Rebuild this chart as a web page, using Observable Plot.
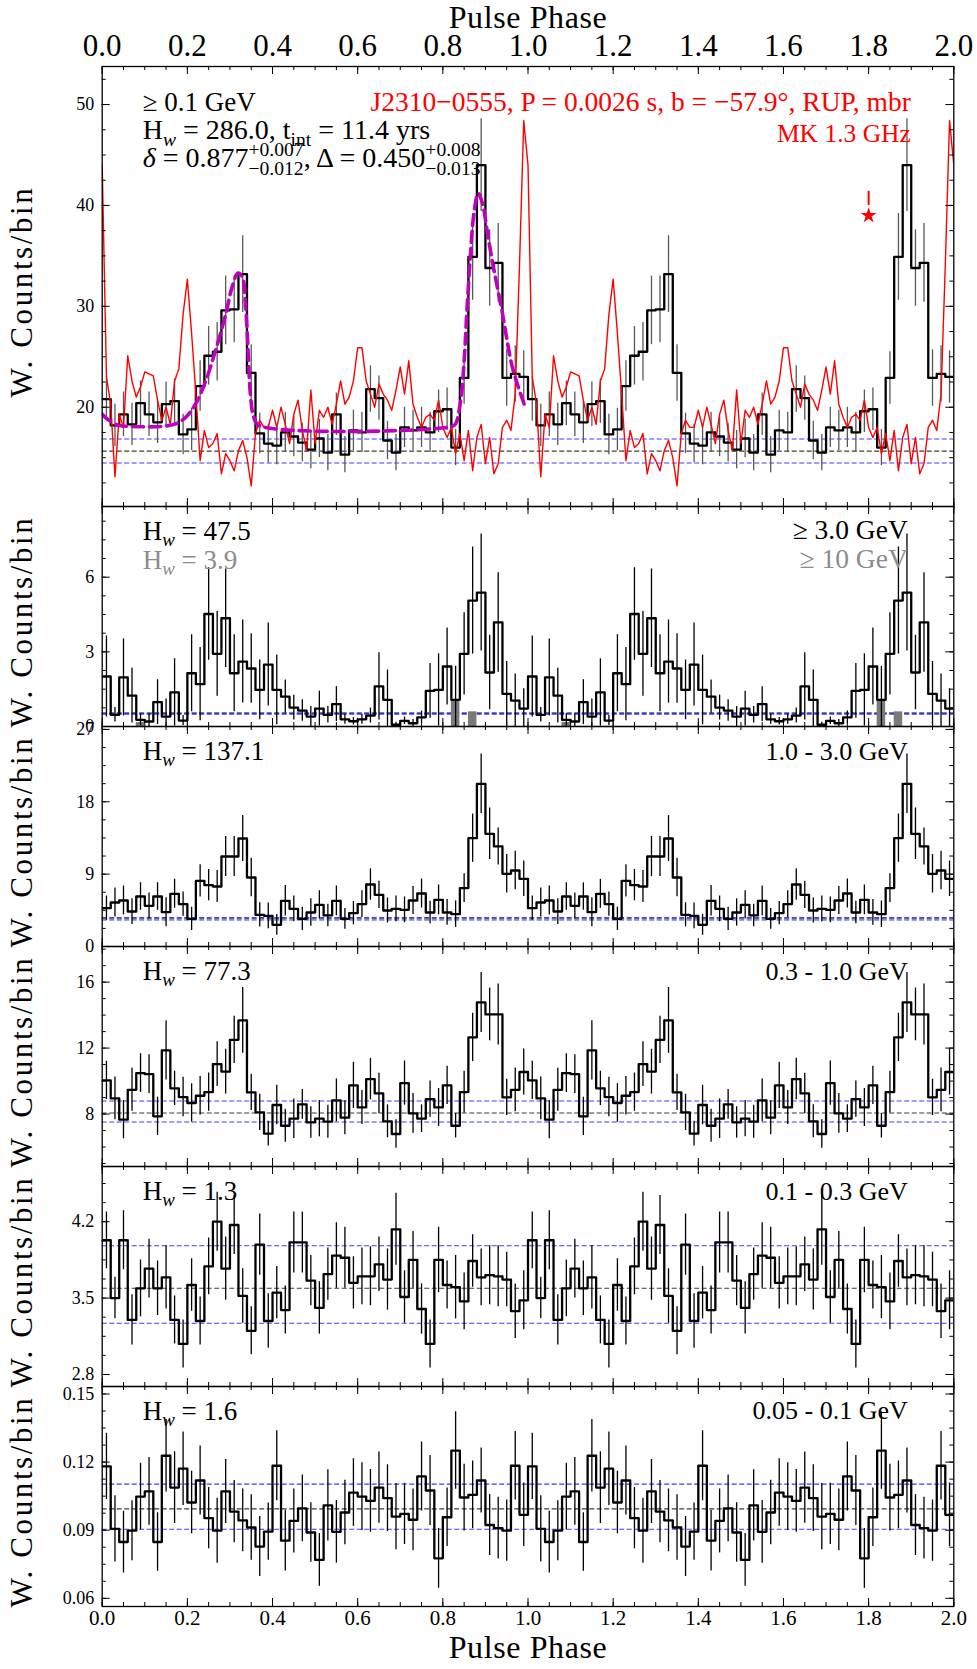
<!DOCTYPE html>
<html><head><meta charset="utf-8">
<script src="https://cdn.jsdelivr.net/npm/d3@7"></script>
<script src="https://cdn.jsdelivr.net/npm/@observablehq/plot@0.6"></script>
<style>
body{margin:0;background:#fff;}
#wrap{position:relative;width:977px;height:1669px;background:#fff;overflow:hidden;}
#wrap svg{position:absolute;left:0;overflow:visible;background:transparent;}
#wrap svg, #wrap svg text{font-family:"Liberation Serif","DejaVu Serif",serif !important;}
</style></head><body><div id="wrap"></div>
<script>
// ---------------- data ----------------
const binWidth = 0.02; // 50 bins per rotation
const phaseMajor = [0, 0.2, 0.4, 0.6, 0.8, 1.0, 1.2, 1.4, 1.6, 1.8, 2.0];
const phaseLabels = ["0.0","0.2","0.4","0.6","0.8","1.0","1.2","1.4","1.6","1.8","2.0"];

// >= 0.1 GeV
const p1Vals = [20.8,18.2,19.3,18.3,20.4,19.3,18.5,20.3,20.6,17.3, 17.8,22.1,25.1,25.5,29.6,29.7,33.2,23.4,17.4,16.4, 16.2,17.5,17.1,16.5,15.8,16.9,15.5,19.3,15.3,17.7, 17.5,21.8,20.9,16.7,15.5,18.0,17.7,18.0,17.5,19.6, 19.8,16.0,22.9,34.9,44.0,33.8,34.3,22.9,23.3,23.0];
const p1Errs = [2.2,2.1,2.2,2.1,2.2,2.2,2.1,2.2,2.2,2.0, 2.1,2.5,2.9,2.9,3.4,3.3,3.8,2.8,2.0,1.9, 1.9,2.0,2.0,1.9,1.9,1.9,1.8,2.1,1.8,2.0, 2.0,2.3,2.2,1.9,1.8,2.0,2.0,2.0,2.0,2.1, 2.1,1.8,2.6,4.3,4.6,3.8,3.9,2.8,2.8,2.6];
// >= 3 GeV
const p2Vals = [2.01,0.47,1.97,1.24,0.27,0.20,0.98,0.40,1.37,0.24, 2.14,1.70,4.52,2.92,4.35,2.14,2.61,2.33,1.47,2.49, 1.47,1.20,0.76,0.64,0.40,0.72,0.47,0.90,0.29,0.21, 0.29,0.44,1.61,1.07,0.07,0.23,0.13,0.37,1.43,1.47, 2.41,1.07,2.92,5.06,5.38,2.17,4.18,1.31,1.04,0.72];
const p2Errs = [1.63,0.29,1.55,1.10,0.25,0.30,0.90,0.70,1.35,0.20, 1.55,1.47,1.86,1.70,1.98,1.55,1.67,1.40,1.20,1.67, 1.40,0.67,0.50,0.43,0.40,0.70,0.33,0.70,0.20,0.15, 0.20,0.30,1.35,1.20,0.10,0.15,0.15,0.25,1.10,1.45, 1.55,1.35,1.65,2.15,2.35,1.50,2.00,1.30,1.07,0.80];
// >= 10 GeV (grey)
const p2HighVals = [0,0,0,0,0.16,0,0,0,0,0, 0,0,0,0,0,0,0,0,0,0, 0,0,0,0,0,0,0,0,0,0, 0,0,0,0,0,0,0,0,0,0, 0,1.07,0,0.59,0,0,0,0,0,0];
// 1.0 - 3.0 GeV
const p3Vals = [4.77,5.47,5.72,4.35,6.22,5.06,6.22,4.27,6.55,5.27, 3.44,8.17,7.63,7.46,11.19,11.19,13.43,8.58,3.94,3.81, 2.69,5.68,4.68,3.44,4.23,5.18,3.86,5.68,3.44,4.15, 5.27,7.71,6.43,4.48,4.68,4.56,5.72,6.59,4.23,5.80, 4.23,4.02,7.26,13.47,20.23,14.01,12.44,9.04,9.45,8.42];
const p3Errs = [1.5,1.8,1.8,1.6,1.7,1.6,1.7,1.8,1.8,1.5, 1.45,2.0,1.95,2.0,2.5,2.5,2.85,2.4,1.5,1.6, 1.3,1.9,1.6,1.45,1.7,1.75,1.4,1.85,1.3,1.45, 1.65,1.95,1.7,1.55,1.6,1.6,1.75,1.8,1.4,1.85, 1.6,1.65,1.8,3.0,3.7,3.2,2.3,2.4,2.4,2.2];
// 0.3 - 1.0 GeV
const p4Vals = [10.04,8.95,7.66,9.47,10.48,10.42,7.86,11.86,9.56,9.03, 8.67,9.11,9.33,11.03,10.57,12.5,13.68,9.31,8.10,6.81, 8.55,7.29,7.72,8.59,7.49,7.72,7.54,8.83,7.78,9.74, 8.40,10.12,9.25,7.56,6.79,9.88,8.04,7.72,8.91,8.40, 9.74,7.29,9.33,12.65,14.77,14.04,14.04,9.01,9.47,10.55];
const p4Errs = [1.16,1.3,1.16,1.3,1.17,1.17,1.16,1.8,1.04,1.2, 1.17,1.16,1.16,1.36,1.36,1.43,2.0,1.1,1.1,0.75, 1.2,1.0,1.2,0.9,0.95,1.1,1.0,1.3,1.03,1.4, 1.03,1.26,1.23,1.0,0.86,1.34,1.2,0.84,1.1,1.15, 1.16,0.74,1.26,1.47,1.82,1.6,1.85,1.1,1.33,1.4];
// 0.1 - 0.3 GeV
const p5Vals = [4.03,3.50,4.03,3.30,3.59,3.77,3.59,3.69,3.30,3.08, 3.62,3.29,3.79,4.20,3.77,4.17,3.52,3.20,3.99,3.29, 3.55,3.39,4.01,4.01,3.66,3.41,3.72,3.89,3.87,3.64, 3.70,3.70,3.81,3.67,4.13,3.51,3.85,3.40,3.08,3.85, 3.62,3.60,3.47,3.84,3.69,3.71,3.70,3.67,3.38,3.48];
const p5Errs = [0.26,0.19,0.27,0.23,0.26,0.27,0.25,0.29,0.22,0.22, 0.24,0.22,0.26,0.27,0.29,0.27,0.25,0.22,0.28,0.25, 0.24,0.22,0.28,0.28,0.23,0.24,0.24,0.30,0.28,0.24, 0.26,0.27,0.25,0.28,0.33,0.24,0.26,0.23,0.22,0.30, 0.22,0.29,0.26,0.24,0.26,0.27,0.28,0.25,0.25,0.27];
// 0.05 - 0.1 GeV
const p6Vals = [0.1181,0.0906,0.0848,0.0898,0.1048,0.1071,0.0848,0.1228,0.1088,0.1171, 0.1022,0.1119,0.0953,0.0898,0.1071,0.0982,0.0943,0.0912,0.0828,0.0894, 0.1184,0.0854,0.0941,0.0996,0.0890,0.0769,0.1009,0.0893,0.0978,0.1066, 0.1048,0.1029,0.1088,0.1041,0.0960,0.0972,0.0946,0.1137,0.1075,0.0776, 0.0957,0.1251,0.1044,0.1056,0.1119,0.0923,0.0909,0.0898,0.1184,0.0968];
const p6Errs = [0.0146,0.0146,0.0136,0.0132,0.0147,0.0149,0.0129,0.0160,0.0158,0.0162, 0.0138,0.0152,0.0135,0.0143,0.0141,0.0137,0.0138,0.0144,0.0132,0.0126, 0.0154,0.0134,0.0141,0.0147,0.0131,0.0116,0.0157,0.0138,0.0142,0.0149, 0.0149,0.0138,0.0157,0.0147,0.0146,0.0135,0.0136,0.0152,0.0154,0.0132, 0.0129,0.0171,0.0147,0.0149,0.0143,0.0134,0.0136,0.0135,0.0151,0.0140];

// radio profile (MK 1.3 GHz), 100 samples per rotation, in panel-1 units
const radioVals = [44.0,23.0,20.3,13.1,19.3,18.0,25.1,22.6,21.0,22.0, 23.5,23.3,23.1,20.7,18.7,20.0,18.3,22.6,23.8,29.2, 32.7,27.3,21.3,14.7,17.7,16.0,16.4,17.4,13.4,15.4, 14.7,13.7,15.7,16.7,15.0,12.2,17.4,18.7,18.0,18.0, 19.7,18.0,20.0,18.3,16.4,19.3,20.7,17.7,15.7,21.7, 16.4,19.7,19.0,20.0,18.3,20.3,22.6,20.3,21.0,22.6, 25.9,25.9,22.6,21.3,20.0,22.3,21.3,20.7,19.7,21.7, 24.0,21.3,24.6,20.3,19.0,18.0,19.0,19.3,18.7,20.7, 18.0,17.0,18.0,15.4,17.4,14.7,17.7,13.7,17.0,18.3, 14.4,17.0,13.4,14.4,18.0,18.7,17.7,21.3,34.0,48.4];

// two-peak fit (magenta dashed)
const fitPhase = [0,0.016,0.039,0.063,0.14,0.172,0.196,0.219,0.243,0.266,0.29,0.305,0.319,0.329,0.337,0.343,0.348,0.356,0.368,0.822,0.83,0.842,0.85,0.857,0.865,0.873,0.883,0.893,0.904,0.916,0.928,0.94,0.951,0.963,0.975,0.991];
const fitVals = [19.3,18.7,18.2,18.1,18.1,18.35,19.0,20.3,22.6,25.6,29.2,31.9,33.3,32.9,29.9,25.3,21.3,19.0,18.2,18.1,18.35,20.7,24.6,29.9,35.2,39.2,41.2,40.2,37.5,34.5,31.9,29.3,26.6,24.0,22.3,20.3];

// star marker (phase, value) and short tick above it
const starPoint = {x: 1.8, y: 39.0};
const starTick = {x: 1.8, y1: 40.0, y2: 41.4};

// background levels: [mid, band-low, band-high]
const bg1 = [15.65, 14.47, 16.85];
const bg2 = [0.52, 0.49, 0.55];
const bg3 = [3.45, 3.29, 3.61];
const bg4 = [8.06, 7.52, 8.79];
const bg5 = [3.59, 3.27, 3.98];
const bg6 = [0.0994, 0.0904, 0.1103];

// y ticks
const y1Major = [20,30,40,50], y1Labels = ["20","30","40","50"];
const y2Major = [0,3,6], y2Labels = ["0","3","6"];
const y3Major = [0,9,18,27], y3Labels = ["0","9","18","27"];
const y4Major = [8,12,16], y4Labels = ["8","12","16"];
const y5Major = [2.8,3.5,4.2], y5Labels = ["2.8","3.5","4.2"];
const y6Major = [0.06,0.09,0.12,0.15], y6Labels = ["0.06","0.09","0.12","0.15"];

// ---------------- layout ----------------
const W = 977, ML = 101.7, MR = 23.7;
const innerW = W - ML - MR;
const FONT = '"Liberation Serif", "DejaVu Serif", serif';

const panels = [
  {top: 66, h: 440, vals: p1Vals, errs: p1Errs, dom: [10.16, 53.77], major: y1Major, labels: y1Labels, minor: [12.5, 52.6, 2.5], bg: bg1, errColor: "#595959",
   left: ["\u2265 0.1 GeV", "H_{w} = 286.0, t_{int} = 11.4 yrs", "\u03b4 = 0.877^{+0.007}_{\u22120.012}, \u0394 = 0.450^{+0.008}_{\u22120.013}"], leftDy: [44, 72, 100], leftSize: [27, 28, 28],
   right: ["J2310\u22120555, P = 0.0026 s, b = \u221257.9\u00b0, RUP, mbr", "MK 1.3 GHz"], rightDy: [44, 75], rightSize: [27.5, 25.5], rightFill: "red", rightDx: -43},
  {top: 506, h: 220, vals: p2Vals, errs: p2Errs, high: p2HighVals, dom: [0, 8.84], major: y2Major, labels: y2Labels, minor: [0, 8.8, 0.75], bg: bg2, errColor: "black",
   left: ["H_{w} = 47.5", "H_{w} = 3.9"], leftDy: [33, 62], leftSize: [27, 27], leftFill: ["black", "#8c8c8c"],
   right: ["\u2265 3.0 GeV", "\u2265 10 GeV"], rightDy: [32, 61], rightSize: [27.5, 27.5], rightFill: ["black", "#8c8c8c"], rightDx: -46},
  {top: 726, h: 220, vals: p3Vals, errs: p3Errs, dom: [0, 27.36], major: y3Major, labels: y3Labels, minor: [0, 27.3, 2.25], bg: bg3, errColor: "black",
   left: ["H_{w} = 137.1"], leftDy: [33], right: ["1.0 - 3.0 GeV"], rightDy: [33], rightDx: -46},
  {top: 946, h: 220, vals: p4Vals, errs: p4Errs, dom: [4.82, 18.16], major: y4Major, labels: y4Labels, minor: [5, 18.1, 1], bg: bg4, errColor: "black",
   left: ["H_{w} = 77.3"], leftDy: [33], right: ["0.3 - 1.0 GeV"], rightDy: [33], rightDx: -46},
  {top: 1166, h: 220, vals: p5Vals, errs: p5Errs, dom: [2.69, 4.706], major: y5Major, labels: y5Labels, minor: [2.8, 4.7, 0.175], bg: bg5, errColor: "black",
   left: ["H_{w} = 1.3"], leftDy: [33], right: ["0.1 - 0.3 GeV"], rightDy: [33], rightDx: -46},
  {top: 1386, h: 220, vals: p6Vals, errs: p6Errs, dom: [0.0564, 0.1533], major: y6Major, labels: y6Labels, minor: [0.06, 0.153, 0.0075], bg: bg6, errColor: "black",
   left: ["H_{w} = 1.6"], leftDy: [33], right: ["0.05 - 0.1 GeV"], rightDy: [32], rightDx: -46}
];

const minorX = d3.range(0, 2.0001, 0.05);

function richify(svg) {
  const NS = "http://www.w3.org/2000/svg";
  svg.querySelectorAll("text").forEach(el => {
    const s = el.textContent;
    if (s === "W. Counts/bin") { el.style.letterSpacing = "2.6px"; return; }
    if (s === "Pulse Phase") { el.style.letterSpacing = "0.6px"; return; }
    if (!/[_^]\{/.test(s)) return;
    const fs = parseFloat(getComputedStyle(el).fontSize) || 26;
    el.textContent = "";
    let cur = 0;
    const mk = (t, shift, small, italic, dx) => {
      const ts = document.createElementNS(NS, "tspan");
      ts.setAttribute("dy", (shift - cur).toFixed(2)); cur = shift;
      if (small) ts.setAttribute("font-size", (fs * 0.7).toFixed(1));
      if (italic) ts.setAttribute("font-style", "italic");
      if (dx) ts.setAttribute("dx", dx.toFixed(2));
      ts.textContent = t; el.appendChild(ts); return ts;
    };
    const re = /\^\{([^}]*)\}_\{([^}]*)\}|_\{([^}]*)\}|([^_^]+)/g;
    let m;
    while ((m = re.exec(s))) {
      if (m[1] !== undefined) {
        const sup = mk(m[1], -fs * 0.38, true, false);
        const w = sup.getComputedTextLength();
        mk(m[2], fs * 0.3, true, false, -w);
      } else if (m[3] !== undefined) {
        mk(m[3], fs * 0.25, true, m[3] === "w");
      } else if (m[4].startsWith("\u03b4")) {
        mk("\u03b4", 0, false, true);
        mk(m[4].slice(1), 0, false, false);
      } else {
        mk(m[4], 0, false, false);
      }
    }
  });
}

const wrap = document.getElementById("wrap");

panels.forEach((p, idx) => {
  const mt = idx === 0 ? 66 : 12;
  const mb = idx === 5 ? 64 : 12;
  const innerH = p.h;
  const bins = [];
  for (let c = 0; c < 2; c++) p.vals.forEach((v, i) => bins.push({x: c + i * binWidth, v, e: p.errs[i]}));
  const steps = bins.map(b => ({x: b.x, v: b.v})).concat([{x: 2, v: p.vals[p.vals.length - 1]}]);
  const minorY = d3.range(p.minor[0], p.minor[1], p.minor[2]);
  const marks = [];

  // background levels
  marks.push(Plot.ruleY([p.bg[0]], {stroke: "#3c3c3c", strokeWidth: 1.1, strokeDasharray: "5,2.5"}));
  marks.push(Plot.ruleY([p.bg[1], p.bg[2]], {stroke: "#3d3dff", strokeWidth: 1.1, strokeDasharray: "5,2.5"}));

  if (p.high) {
    const hb = [];
    for (let c = 0; c < 2; c++) p.high.forEach((v, i) => { if (v > 0) hb.push({x1: c + i * binWidth, x2: c + (i + 1) * binWidth, v}); });
    marks.push(Plot.rect(hb, {x1: "x1", x2: "x2", y1: 0, y2: "v", fill: "#7a7a7a", clip: true}));
  }

  // error bars
  marks.push(Plot.ruleX(bins, {x: d => d.x + binWidth / 2, y1: d => d.v - d.e, y2: d => d.v + d.e, stroke: p.errColor, strokeWidth: 1.3, clip: true}));
  // histogram
  marks.push(Plot.line(steps, {x: "x", y: "v", curve: "step-after", stroke: "black", strokeWidth: 2.3, clip: true}));

  if (idx === 0) {
    const radio = [];
    for (let c = 0; c < 2; c++) radioVals.forEach((v, i) => radio.push({x: c + i / radioVals.length, v}));
    radio.push({x: 2, v: radioVals[0]});
    marks.push(Plot.line(radio, {x: "x", y: "v", stroke: "red", strokeWidth: 1.4, clip: true}));
    marks.push(Plot.line(fitPhase.map((x, i) => ({x, v: fitVals[i]})), {x: "x", y: "v", stroke: "#bf00bf", strokeWidth: 3.6, strokeDasharray: "11,6", curve: "catmull-rom", clip: true}));
    marks.push(Plot.ruleX([starTick], {x: "x", y1: "y1", y2: "y2", stroke: "red", strokeWidth: 2}));
    marks.push(Plot.dot([starPoint], {x: "x", y: "y", symbol: "star", fill: "red", stroke: null, r: 5}));
  }

  // frame and ticks (inward, all four sides)
  marks.push(Plot.frame({stroke: "black", strokeWidth: 1.3}));
  marks.push(Plot.tickX(minorX, {x: d => d, insetTop: innerH - 4, strokeWidth: 1}));
  marks.push(Plot.tickX(phaseMajor, {x: d => d, insetTop: innerH - 8, strokeWidth: 1}));
  marks.push(Plot.tickX(minorX, {x: d => d, insetBottom: innerH - 4, strokeWidth: 1}));
  marks.push(Plot.tickX(phaseMajor, {x: d => d, insetBottom: innerH - 8, strokeWidth: 1}));
  marks.push(Plot.tickY(minorY, {y: d => d, insetRight: innerW - 4, strokeWidth: 1}));
  marks.push(Plot.tickY(p.major, {y: d => d, insetRight: innerW - 8, strokeWidth: 1}));
  marks.push(Plot.tickY(minorY, {y: d => d, insetLeft: innerW - 4, strokeWidth: 1}));
  marks.push(Plot.tickY(p.major, {y: d => d, insetLeft: innerW - 8, strokeWidth: 1}));

  // tick labels
  marks.push(Plot.axisY(p.major, {anchor: "left", label: null, tickSize: 0, tickPadding: 8, fontSize: 18, tickFormat: d => p.labels[p.major.indexOf(d)]}));
  if (idx === 0) {
    marks.push(Plot.axisX(phaseMajor, {anchor: "top", label: null, tickSize: 0, tickPadding: 11, fontSize: 31, tickFormat: d => phaseLabels[phaseMajor.indexOf(d)]}));
    marks.push(Plot.text(["Pulse Phase"], {frameAnchor: "top", dy: -38.5, lineAnchor: "bottom", fontSize: 32, text: d => d}));
  }
  if (idx === 5) {
    marks.push(Plot.axisX(phaseMajor, {anchor: "bottom", label: null, tickSize: 0, tickPadding: 4, fontSize: 21, tickFormat: d => phaseLabels[phaseMajor.indexOf(d)]}));
    marks.push(Plot.text(["Pulse Phase"], {frameAnchor: "bottom", dy: 51, lineAnchor: "bottom", fontSize: 32, text: d => d}));
  }
  // y label
  marks.push(Plot.text(["W. Counts/bin"], {frameAnchor: "left", dx: -80.4, dy: 5, rotate: -90, fontSize: 31, lineAnchor: "middle", textAnchor: "middle", text: d => d}));

  // annotations
  p.left.forEach((t, i) => marks.push(Plot.text([t], {frameAnchor: "top-left", dx: 40.5, dy: p.leftDy[i], lineAnchor: "bottom", textAnchor: "start", fontSize: p.leftSize ? p.leftSize[i] : 27, fill: p.leftFill ? p.leftFill[i] : "black", text: d => d})));
  p.right.forEach((t, i) => marks.push(Plot.text([t], {frameAnchor: "top-right", dx: p.rightDx, dy: p.rightDy[i], lineAnchor: "bottom", textAnchor: "end", fontSize: p.rightSize ? p.rightSize[i] : 26, fill: Array.isArray(p.rightFill) ? p.rightFill[i] : (p.rightFill || "black"), text: d => d})));

  const svg = Plot.plot({
    width: W, height: mt + innerH + mb,
    marginLeft: ML, marginRight: MR, marginTop: mt, marginBottom: mb,
    x: {domain: [0, 2], axis: null},
    y: {domain: p.dom, axis: null},
    style: {fontFamily: FONT, fontSize: "20px", background: "transparent", overflow: "visible", color: "black"},
    marks
  });
  svg.style.top = (p.top - mt) + "px";
  wrap.appendChild(svg);
  richify(svg);
});
</script></body></html>
